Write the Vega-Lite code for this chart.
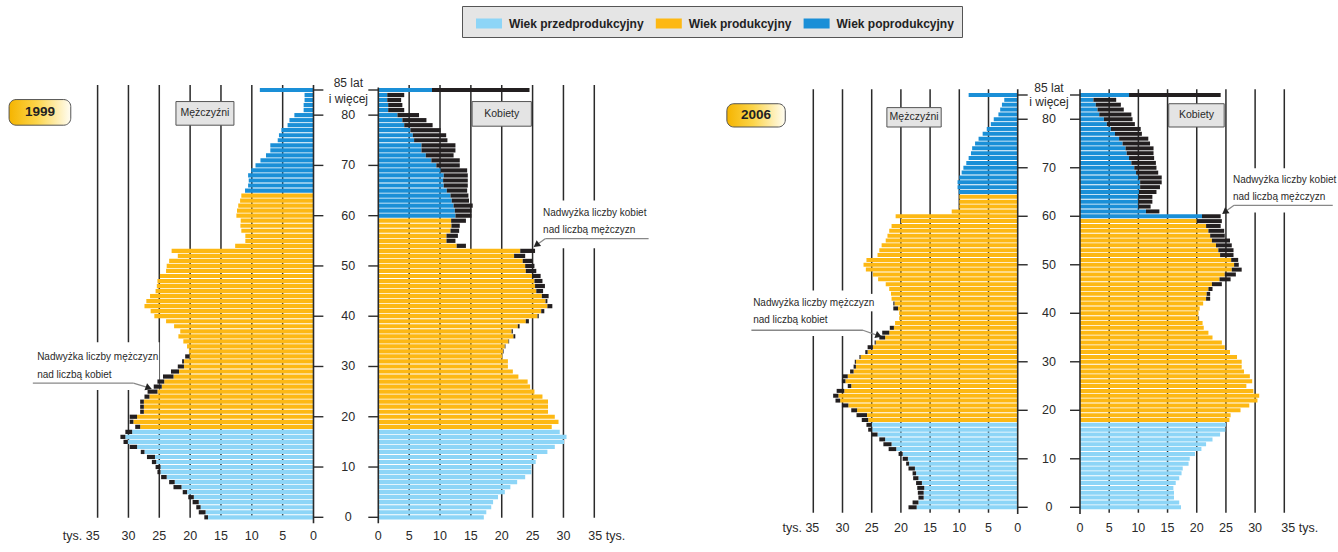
{
"$schema":"https://vega.github.io/schema/vega-lite/v6.json",
"width":1338,"height":552,"autosize":{"type":"none"},"padding":0,"background":"#ffffff",
"config":{"view":{"stroke":null},"font":"Liberation Sans","axis":{"disable":true},
"text":{"font":"Liberation Sans","fontSize":10,"color":"#2a2a2a"}},
"datasets":{
"ages":[{"a":0},{"a":10},{"a":20},{"a":30},{"a":40},{"a":50},{"a":60},{"a":70},{"a":80},{"a":85}],
"agel":[{"a":0},{"a":10},{"a":20},{"a":30},{"a":40},{"a":50},{"a":60},{"a":70},{"a":80}],
"xl":[{"t":0},{"t":5},{"t":10},{"t":15},{"t":20},{"t":25},{"t":30}],
"grid":[{"g":5},{"g":10},{"g":15},{"g":20},{"g":25},{"g":30},{"g":35}],
"pop":[
{"r":1999,"s":"M","a":0,"v":17.7,"g":"a"},{"r":1999,"s":"M","a":1,"v":18.6,"g":"a"},{"r":1999,"s":"M","a":2,"v":19.0,"g":"a"},{"r":1999,"s":"M","a":3,"v":19.6,"g":"a"},{"r":1999,"s":"M","a":4,"v":20.3,"g":"a"},{"r":1999,"s":"M","a":5,"v":21.2,"g":"a"},{"r":1999,"s":"M","a":6,"v":22.7,"g":"a"},{"r":1999,"s":"M","a":7,"v":23.4,"g":"a"},{"r":1999,"s":"M","a":8,"v":24.7,"g":"a"},{"r":1999,"s":"M","a":9,"v":25.3,"g":"a"},
{"r":1999,"s":"M","a":10,"v":25.6,"g":"a"},{"r":1999,"s":"M","a":11,"v":26.2,"g":"a"},{"r":1999,"s":"M","a":12,"v":27.0,"g":"a"},{"r":1999,"s":"M","a":13,"v":28.0,"g":"a"},{"r":1999,"s":"M","a":14,"v":29.8,"g":"a"},{"r":1999,"s":"M","a":15,"v":30.8,"g":"a"},{"r":1999,"s":"M","a":16,"v":31.3,"g":"a"},{"r":1999,"s":"M","a":17,"v":30.5,"g":"a"},{"r":1999,"s":"M","a":18,"v":28.9,"g":"b"},{"r":1999,"s":"M","a":19,"v":29.8,"g":"b"},
{"r":1999,"s":"M","a":20,"v":29.8,"g":"b"},{"r":1999,"s":"M","a":21,"v":28.1,"g":"b"},{"r":1999,"s":"M","a":22,"v":28.1,"g":"b"},{"r":1999,"s":"M","a":23,"v":28.1,"g":"b"},{"r":1999,"s":"M","a":24,"v":27.4,"g":"b"},{"r":1999,"s":"M","a":25,"v":26.9,"g":"b"},{"r":1999,"s":"M","a":26,"v":25.9,"g":"b"},{"r":1999,"s":"M","a":27,"v":25.3,"g":"b"},{"r":1999,"s":"M","a":28,"v":24.4,"g":"b"},{"r":1999,"s":"M","a":29,"v":23.1,"g":"b"},
{"r":1999,"s":"M","a":30,"v":22.0,"g":"b"},{"r":1999,"s":"M","a":31,"v":21.3,"g":"b"},{"r":1999,"s":"M","a":32,"v":20.8,"g":"b"},{"r":1999,"s":"M","a":33,"v":20.2,"g":"b"},{"r":1999,"s":"M","a":34,"v":20.5,"g":"b"},{"r":1999,"s":"M","a":35,"v":21.1,"g":"b"},{"r":1999,"s":"M","a":36,"v":21.9,"g":"b"},{"r":1999,"s":"M","a":37,"v":21.6,"g":"b"},{"r":1999,"s":"M","a":38,"v":22.6,"g":"b"},{"r":1999,"s":"M","a":39,"v":23.9,"g":"b"},
{"r":1999,"s":"M","a":40,"v":25.8,"g":"b"},{"r":1999,"s":"M","a":41,"v":26.4,"g":"b"},{"r":1999,"s":"M","a":42,"v":27.4,"g":"b"},{"r":1999,"s":"M","a":43,"v":27.1,"g":"b"},{"r":1999,"s":"M","a":44,"v":26.5,"g":"b"},{"r":1999,"s":"M","a":45,"v":25.6,"g":"b"},{"r":1999,"s":"M","a":46,"v":25.4,"g":"b"},{"r":1999,"s":"M","a":47,"v":25.3,"g":"b"},{"r":1999,"s":"M","a":48,"v":24.9,"g":"b"},{"r":1999,"s":"M","a":49,"v":23.9,"g":"b"},
{"r":1999,"s":"M","a":50,"v":23.8,"g":"b"},{"r":1999,"s":"M","a":51,"v":23.4,"g":"b"},{"r":1999,"s":"M","a":52,"v":22.0,"g":"b"},{"r":1999,"s":"M","a":53,"v":23.0,"g":"b"},{"r":1999,"s":"M","a":54,"v":12.7,"g":"b"},{"r":1999,"s":"M","a":55,"v":11.05,"g":"b"},{"r":1999,"s":"M","a":56,"v":11.05,"g":"b"},{"r":1999,"s":"M","a":57,"v":11.7,"g":"b"},{"r":1999,"s":"M","a":58,"v":11.85,"g":"b"},{"r":1999,"s":"M","a":59,"v":11.8,"g":"b"},
{"r":1999,"s":"M","a":60,"v":12.5,"g":"b"},{"r":1999,"s":"M","a":61,"v":12.4,"g":"b"},{"r":1999,"s":"M","a":62,"v":12.2,"g":"b"},{"r":1999,"s":"M","a":63,"v":11.9,"g":"b"},{"r":1999,"s":"M","a":64,"v":11.7,"g":"b"},{"r":1999,"s":"M","a":65,"v":11.1,"g":"c"},{"r":1999,"s":"M","a":66,"v":10.6,"g":"c"},{"r":1999,"s":"M","a":67,"v":10.5,"g":"c"},{"r":1999,"s":"M","a":68,"v":10.6,"g":"c"},{"r":1999,"s":"M","a":69,"v":10.1,"g":"c"},
{"r":1999,"s":"M","a":70,"v":9.4,"g":"c"},{"r":1999,"s":"M","a":71,"v":8.6,"g":"c"},{"r":1999,"s":"M","a":72,"v":7.7,"g":"c"},{"r":1999,"s":"M","a":73,"v":7.0,"g":"c"},{"r":1999,"s":"M","a":74,"v":7.0,"g":"c"},{"r":1999,"s":"M","a":75,"v":5.8,"g":"c"},{"r":1999,"s":"M","a":76,"v":5.6,"g":"c"},{"r":1999,"s":"M","a":77,"v":5.2,"g":"c"},{"r":1999,"s":"M","a":78,"v":4.2,"g":"c"},{"r":1999,"s":"M","a":79,"v":3.9,"g":"c"},
{"r":1999,"s":"M","a":80,"v":3.1,"g":"c"},{"r":1999,"s":"M","a":81,"v":1.6,"g":"c"},{"r":1999,"s":"M","a":82,"v":1.6,"g":"c"},{"r":1999,"s":"M","a":83,"v":1.45,"g":"c"},{"r":1999,"s":"M","a":84,"v":1.45,"g":"c"},{"r":1999,"s":"M","a":85,"v":8.7,"g":"c"},
{"r":1999,"s":"K","a":0,"v":17.1,"g":"a"},{"r":1999,"s":"K","a":1,"v":17.5,"g":"a"},{"r":1999,"s":"K","a":2,"v":18.3,"g":"a"},{"r":1999,"s":"K","a":3,"v":18.6,"g":"a"},{"r":1999,"s":"K","a":4,"v":19.4,"g":"a"},{"r":1999,"s":"K","a":5,"v":20.5,"g":"a"},{"r":1999,"s":"K","a":6,"v":21.4,"g":"a"},{"r":1999,"s":"K","a":7,"v":22.5,"g":"a"},{"r":1999,"s":"K","a":8,"v":23.8,"g":"a"},{"r":1999,"s":"K","a":9,"v":24.8,"g":"a"},
{"r":1999,"s":"K","a":10,"v":24.8,"g":"a"},{"r":1999,"s":"K","a":11,"v":25.5,"g":"a"},{"r":1999,"s":"K","a":12,"v":25.7,"g":"a"},{"r":1999,"s":"K","a":13,"v":27.4,"g":"a"},{"r":1999,"s":"K","a":14,"v":28.6,"g":"a"},{"r":1999,"s":"K","a":15,"v":30.1,"g":"a"},{"r":1999,"s":"K","a":16,"v":30.5,"g":"a"},{"r":1999,"s":"K","a":17,"v":29.4,"g":"a"},{"r":1999,"s":"K","a":18,"v":28.1,"g":"b"},{"r":1999,"s":"K","a":19,"v":29.2,"g":"b"},
{"r":1999,"s":"K","a":20,"v":28.6,"g":"b"},{"r":1999,"s":"K","a":21,"v":27.5,"g":"b"},{"r":1999,"s":"K","a":22,"v":27.5,"g":"b"},{"r":1999,"s":"K","a":23,"v":27.5,"g":"b"},{"r":1999,"s":"K","a":24,"v":26.6,"g":"b"},{"r":1999,"s":"K","a":25,"v":25.3,"g":"b"},{"r":1999,"s":"K","a":26,"v":24.6,"g":"b"},{"r":1999,"s":"K","a":27,"v":24.2,"g":"b"},{"r":1999,"s":"K","a":28,"v":22.7,"g":"b"},{"r":1999,"s":"K","a":29,"v":21.8,"g":"b"},
{"r":1999,"s":"K","a":30,"v":21.0,"g":"b"},{"r":1999,"s":"K","a":31,"v":21.0,"g":"b"},{"r":1999,"s":"K","a":32,"v":20.1,"g":"b"},{"r":1999,"s":"K","a":33,"v":20.3,"g":"b"},{"r":1999,"s":"K","a":34,"v":20.6,"g":"b"},{"r":1999,"s":"K","a":35,"v":21.2,"g":"b"},{"r":1999,"s":"K","a":36,"v":22.2,"g":"b"},{"r":1999,"s":"K","a":37,"v":21.8,"g":"b"},{"r":1999,"s":"K","a":38,"v":22.9,"g":"b"},{"r":1999,"s":"K","a":39,"v":24.4,"g":"b"},
{"r":1999,"s":"K","a":40,"v":26.0,"g":"b"},{"r":1999,"s":"K","a":41,"v":26.9,"g":"b"},{"r":1999,"s":"K","a":42,"v":28.2,"g":"b"},{"r":1999,"s":"K","a":43,"v":27.4,"g":"b"},{"r":1999,"s":"K","a":44,"v":27.6,"g":"b"},{"r":1999,"s":"K","a":45,"v":26.7,"g":"b"},{"r":1999,"s":"K","a":46,"v":27.0,"g":"b"},{"r":1999,"s":"K","a":47,"v":26.6,"g":"b"},{"r":1999,"s":"K","a":48,"v":26.3,"g":"b"},{"r":1999,"s":"K","a":49,"v":25.6,"g":"b"},
{"r":1999,"s":"K","a":50,"v":25.3,"g":"b"},{"r":1999,"s":"K","a":51,"v":25.0,"g":"b"},{"r":1999,"s":"K","a":52,"v":23.8,"g":"b"},{"r":1999,"s":"K","a":53,"v":25.4,"g":"b"},{"r":1999,"s":"K","a":54,"v":14.2,"g":"b"},{"r":1999,"s":"K","a":55,"v":12.5,"g":"b"},{"r":1999,"s":"K","a":56,"v":12.9,"g":"b"},{"r":1999,"s":"K","a":57,"v":13.1,"g":"b"},{"r":1999,"s":"K","a":58,"v":13.2,"g":"b"},{"r":1999,"s":"K","a":59,"v":14.2,"g":"b"},
{"r":1999,"s":"K","a":60,"v":15.1,"g":"c"},{"r":1999,"s":"K","a":61,"v":15.1,"g":"c"},{"r":1999,"s":"K","a":62,"v":15.3,"g":"c"},{"r":1999,"s":"K","a":63,"v":14.7,"g":"c"},{"r":1999,"s":"K","a":64,"v":14.6,"g":"c"},{"r":1999,"s":"K","a":65,"v":14.4,"g":"c"},{"r":1999,"s":"K","a":66,"v":14.5,"g":"c"},{"r":1999,"s":"K","a":67,"v":14.5,"g":"c"},{"r":1999,"s":"K","a":68,"v":14.5,"g":"c"},{"r":1999,"s":"K","a":69,"v":14.4,"g":"c"},
{"r":1999,"s":"K","a":70,"v":13.2,"g":"c"},{"r":1999,"s":"K","a":71,"v":13.2,"g":"c"},{"r":1999,"s":"K","a":72,"v":12.2,"g":"c"},{"r":1999,"s":"K","a":73,"v":12.5,"g":"c"},{"r":1999,"s":"K","a":74,"v":12.5,"g":"c"},{"r":1999,"s":"K","a":75,"v":11.2,"g":"c"},{"r":1999,"s":"K","a":76,"v":11.0,"g":"c"},{"r":1999,"s":"K","a":77,"v":10.1,"g":"c"},{"r":1999,"s":"K","a":78,"v":8.8,"g":"c"},{"r":1999,"s":"K","a":79,"v":7.8,"g":"c"},
{"r":1999,"s":"K","a":80,"v":6.6,"g":"c"},{"r":1999,"s":"K","a":81,"v":4.2,"g":"c"},{"r":1999,"s":"K","a":82,"v":3.9,"g":"c"},{"r":1999,"s":"K","a":83,"v":3.7,"g":"c"},{"r":1999,"s":"K","a":84,"v":4.2,"g":"c"},{"r":1999,"s":"K","a":85,"v":24.5,"g":"c"},
{"r":2006,"s":"M","a":0,"v":18.7,"g":"a"},{"r":2006,"s":"M","a":1,"v":18.0,"g":"a"},{"r":2006,"s":"M","a":2,"v":17.0,"g":"a"},{"r":2006,"s":"M","a":3,"v":17.1,"g":"a"},{"r":2006,"s":"M","a":4,"v":17.2,"g":"a"},{"r":2006,"s":"M","a":5,"v":17.4,"g":"a"},{"r":2006,"s":"M","a":6,"v":17.9,"g":"a"},{"r":2006,"s":"M","a":7,"v":18.0,"g":"a"},{"r":2006,"s":"M","a":8,"v":18.7,"g":"a"},{"r":2006,"s":"M","a":9,"v":19.1,"g":"a"},
{"r":2006,"s":"M","a":10,"v":19.7,"g":"a"},{"r":2006,"s":"M","a":11,"v":20.4,"g":"a"},{"r":2006,"s":"M","a":12,"v":22.1,"g":"a"},{"r":2006,"s":"M","a":13,"v":23.0,"g":"a"},{"r":2006,"s":"M","a":14,"v":23.7,"g":"a"},{"r":2006,"s":"M","a":15,"v":25.0,"g":"a"},{"r":2006,"s":"M","a":16,"v":25.6,"g":"a"},{"r":2006,"s":"M","a":17,"v":25.9,"g":"a"},{"r":2006,"s":"M","a":18,"v":26.7,"g":"b"},{"r":2006,"s":"M","a":19,"v":27.6,"g":"b"},
{"r":2006,"s":"M","a":20,"v":28.5,"g":"b"},{"r":2006,"s":"M","a":21,"v":30.1,"g":"b"},{"r":2006,"s":"M","a":22,"v":31.2,"g":"b"},{"r":2006,"s":"M","a":23,"v":31.6,"g":"b"},{"r":2006,"s":"M","a":24,"v":31.0,"g":"b"},{"r":2006,"s":"M","a":25,"v":29.1,"g":"b"},{"r":2006,"s":"M","a":26,"v":30.1,"g":"b"},{"r":2006,"s":"M","a":27,"v":30.0,"g":"b"},{"r":2006,"s":"M","a":28,"v":28.7,"g":"b"},{"r":2006,"s":"M","a":29,"v":28.1,"g":"b"},
{"r":2006,"s":"M","a":30,"v":27.9,"g":"b"},{"r":2006,"s":"M","a":31,"v":27.1,"g":"b"},{"r":2006,"s":"M","a":32,"v":26.1,"g":"b"},{"r":2006,"s":"M","a":33,"v":25.7,"g":"b"},{"r":2006,"s":"M","a":34,"v":24.5,"g":"b"},{"r":2006,"s":"M","a":35,"v":23.7,"g":"b"},{"r":2006,"s":"M","a":36,"v":23.2,"g":"b"},{"r":2006,"s":"M","a":37,"v":21.9,"g":"b"},{"r":2006,"s":"M","a":38,"v":21.0,"g":"b"},{"r":2006,"s":"M","a":39,"v":20.3,"g":"b"},
{"r":2006,"s":"M","a":40,"v":20.3,"g":"b"},{"r":2006,"s":"M","a":41,"v":21.3,"g":"b"},{"r":2006,"s":"M","a":42,"v":21.3,"g":"b"},{"r":2006,"s":"M","a":43,"v":21.6,"g":"b"},{"r":2006,"s":"M","a":44,"v":21.7,"g":"b"},{"r":2006,"s":"M","a":45,"v":22.0,"g":"b"},{"r":2006,"s":"M","a":46,"v":22.6,"g":"b"},{"r":2006,"s":"M","a":47,"v":23.9,"g":"b"},{"r":2006,"s":"M","a":48,"v":24.8,"g":"b"},{"r":2006,"s":"M","a":49,"v":26.0,"g":"b"},
{"r":2006,"s":"M","a":50,"v":26.4,"g":"b"},{"r":2006,"s":"M","a":51,"v":25.9,"g":"b"},{"r":2006,"s":"M","a":52,"v":24.0,"g":"b"},{"r":2006,"s":"M","a":53,"v":23.7,"g":"b"},{"r":2006,"s":"M","a":54,"v":23.3,"g":"b"},{"r":2006,"s":"M","a":55,"v":22.6,"g":"b"},{"r":2006,"s":"M","a":56,"v":22.3,"g":"b"},{"r":2006,"s":"M","a":57,"v":22.0,"g":"b"},{"r":2006,"s":"M","a":58,"v":21.6,"g":"b"},{"r":2006,"s":"M","a":59,"v":20.0,"g":"b"},
{"r":2006,"s":"M","a":60,"v":20.9,"g":"b"},{"r":2006,"s":"M","a":61,"v":11.3,"g":"b"},{"r":2006,"s":"M","a":62,"v":10.0,"g":"b"},{"r":2006,"s":"M","a":63,"v":10.0,"g":"b"},{"r":2006,"s":"M","a":64,"v":10.0,"g":"b"},{"r":2006,"s":"M","a":65,"v":10.1,"g":"c"},{"r":2006,"s":"M","a":66,"v":10.3,"g":"c"},{"r":2006,"s":"M","a":67,"v":10.3,"g":"c"},{"r":2006,"s":"M","a":68,"v":10.0,"g":"c"},{"r":2006,"s":"M","a":69,"v":9.6,"g":"c"},
{"r":2006,"s":"M","a":70,"v":9.3,"g":"c"},{"r":2006,"s":"M","a":71,"v":8.8,"g":"c"},{"r":2006,"s":"M","a":72,"v":8.4,"g":"c"},{"r":2006,"s":"M","a":73,"v":8.0,"g":"c"},{"r":2006,"s":"M","a":74,"v":7.8,"g":"c"},{"r":2006,"s":"M","a":75,"v":7.3,"g":"c"},{"r":2006,"s":"M","a":76,"v":6.7,"g":"c"},{"r":2006,"s":"M","a":77,"v":6.0,"g":"c"},{"r":2006,"s":"M","a":78,"v":5.3,"g":"c"},{"r":2006,"s":"M","a":79,"v":4.6,"g":"c"},
{"r":2006,"s":"M","a":80,"v":4.1,"g":"c"},{"r":2006,"s":"M","a":81,"v":3.3,"g":"c"},{"r":2006,"s":"M","a":82,"v":3.0,"g":"c"},{"r":2006,"s":"M","a":83,"v":2.7,"g":"c"},{"r":2006,"s":"M","a":84,"v":2.3,"g":"c"},{"r":2006,"s":"M","a":85,"v":8.4,"g":"c"},
{"r":2006,"s":"K","a":0,"v":17.3,"g":"a"},{"r":2006,"s":"K","a":1,"v":17.0,"g":"a"},{"r":2006,"s":"K","a":2,"v":16.1,"g":"a"},{"r":2006,"s":"K","a":3,"v":16.1,"g":"a"},{"r":2006,"s":"K","a":4,"v":16.0,"g":"a"},{"r":2006,"s":"K","a":5,"v":16.4,"g":"a"},{"r":2006,"s":"K","a":6,"v":17.0,"g":"a"},{"r":2006,"s":"K","a":7,"v":17.4,"g":"a"},{"r":2006,"s":"K","a":8,"v":17.6,"g":"a"},{"r":2006,"s":"K","a":9,"v":18.6,"g":"a"},
{"r":2006,"s":"K","a":10,"v":18.8,"g":"a"},{"r":2006,"s":"K","a":11,"v":19.7,"g":"a"},{"r":2006,"s":"K","a":12,"v":20.8,"g":"a"},{"r":2006,"s":"K","a":13,"v":21.6,"g":"a"},{"r":2006,"s":"K","a":14,"v":22.7,"g":"a"},{"r":2006,"s":"K","a":15,"v":24.0,"g":"a"},{"r":2006,"s":"K","a":16,"v":24.9,"g":"a"},{"r":2006,"s":"K","a":17,"v":25.0,"g":"a"},{"r":2006,"s":"K","a":18,"v":25.6,"g":"b"},{"r":2006,"s":"K","a":19,"v":25.8,"g":"b"},
{"r":2006,"s":"K","a":20,"v":27.5,"g":"b"},{"r":2006,"s":"K","a":21,"v":29.0,"g":"b"},{"r":2006,"s":"K","a":22,"v":30.4,"g":"b"},{"r":2006,"s":"K","a":23,"v":30.7,"g":"b"},{"r":2006,"s":"K","a":24,"v":29.7,"g":"b"},{"r":2006,"s":"K","a":25,"v":28.5,"g":"b"},{"r":2006,"s":"K","a":26,"v":29.5,"g":"b"},{"r":2006,"s":"K","a":27,"v":29.1,"g":"b"},{"r":2006,"s":"K","a":28,"v":28.1,"g":"b"},{"r":2006,"s":"K","a":29,"v":27.7,"g":"b"},
{"r":2006,"s":"K","a":30,"v":27.7,"g":"b"},{"r":2006,"s":"K","a":31,"v":26.9,"g":"b"},{"r":2006,"s":"K","a":32,"v":25.7,"g":"b"},{"r":2006,"s":"K","a":33,"v":24.8,"g":"b"},{"r":2006,"s":"K","a":34,"v":24.3,"g":"b"},{"r":2006,"s":"K","a":35,"v":22.7,"g":"b"},{"r":2006,"s":"K","a":36,"v":22.0,"g":"b"},{"r":2006,"s":"K","a":37,"v":21.2,"g":"b"},{"r":2006,"s":"K","a":38,"v":21.0,"g":"b"},{"r":2006,"s":"K","a":39,"v":20.4,"g":"b"},
{"r":2006,"s":"K","a":40,"v":20.3,"g":"b"},{"r":2006,"s":"K","a":41,"v":20.5,"g":"b"},{"r":2006,"s":"K","a":42,"v":21.1,"g":"b"},{"r":2006,"s":"K","a":43,"v":22.3,"g":"b"},{"r":2006,"s":"K","a":44,"v":22.3,"g":"b"},{"r":2006,"s":"K","a":45,"v":22.7,"g":"b"},{"r":2006,"s":"K","a":46,"v":24.3,"g":"b"},{"r":2006,"s":"K","a":47,"v":25.8,"g":"b"},{"r":2006,"s":"K","a":48,"v":26.7,"g":"b"},{"r":2006,"s":"K","a":49,"v":27.7,"g":"b"},
{"r":2006,"s":"K","a":50,"v":27.2,"g":"b"},{"r":2006,"s":"K","a":51,"v":27.1,"g":"b"},{"r":2006,"s":"K","a":52,"v":26.3,"g":"b"},{"r":2006,"s":"K","a":53,"v":26.3,"g":"b"},{"r":2006,"s":"K","a":54,"v":26.0,"g":"b"},{"r":2006,"s":"K","a":55,"v":25.7,"g":"b"},{"r":2006,"s":"K","a":56,"v":24.8,"g":"b"},{"r":2006,"s":"K","a":57,"v":24.7,"g":"b"},{"r":2006,"s":"K","a":58,"v":24.1,"g":"b"},{"r":2006,"s":"K","a":59,"v":24.3,"g":"b"},
{"r":2006,"s":"K","a":60,"v":24.1,"g":"c"},{"r":2006,"s":"K","a":61,"v":13.6,"g":"c"},{"r":2006,"s":"K","a":62,"v":12.1,"g":"c"},{"r":2006,"s":"K","a":63,"v":12.4,"g":"c"},{"r":2006,"s":"K","a":64,"v":12.4,"g":"c"},{"r":2006,"s":"K","a":65,"v":13.1,"g":"c"},{"r":2006,"s":"K","a":66,"v":13.7,"g":"c"},{"r":2006,"s":"K","a":67,"v":14.0,"g":"c"},{"r":2006,"s":"K","a":68,"v":14.0,"g":"c"},{"r":2006,"s":"K","a":69,"v":13.4,"g":"c"},
{"r":2006,"s":"K","a":70,"v":13.1,"g":"c"},{"r":2006,"s":"K","a":71,"v":13.0,"g":"c"},{"r":2006,"s":"K","a":72,"v":12.7,"g":"c"},{"r":2006,"s":"K","a":73,"v":12.6,"g":"c"},{"r":2006,"s":"K","a":74,"v":12.6,"g":"c"},{"r":2006,"s":"K","a":75,"v":12.0,"g":"c"},{"r":2006,"s":"K","a":76,"v":11.7,"g":"c"},{"r":2006,"s":"K","a":77,"v":10.6,"g":"c"},{"r":2006,"s":"K","a":78,"v":10.4,"g":"c"},{"r":2006,"s":"K","a":79,"v":9.4,"g":"c"},
{"r":2006,"s":"K","a":80,"v":9.0,"g":"c"},{"r":2006,"s":"K","a":81,"v":8.8,"g":"c"},{"r":2006,"s":"K","a":82,"v":7.5,"g":"c"},{"r":2006,"s":"K","a":83,"v":7.0,"g":"c"},{"r":2006,"s":"K","a":84,"v":6.2,"g":"c"},{"r":2006,"s":"K","a":85,"v":24.1,"g":"c"}
]},
"resolve":{"scale":{"x":"independent","y":"independent"}},
"layer":[
{"layer":[
 {"data":{"name":"grid"},"mark":{"type":"rule","color":"#2a2a2a","strokeWidth":1.5},
  "encoding":{"x":{"field":"g","type":"quantitative","axis":null},"y":{"datum":86,"axis":null},"y2":{"datum":-0.1}}},
 {"data":{"values":[{}]},"mark":{"type":"rect","fill":"#ffffff"},"encoding":{"x":{"datum":45.8,"axis":null},"x2":{"datum":25.0},"y":{"datum":34.8,"axis":null},"y2":{"datum":25.3}}},
 {"data":{"name":"pop"},"transform":[{"filter":"datum.r == 1999"},{"joinaggregate":[{"op":"min","field":"v","as":"lo"}],"groupby":["a"]},{"filter":"datum.s == 'M'"}],
  "mark":{"type":"bar","orient":"horizontal","size":4.2},
  "encoding":{
   "x":{"field":"lo","type":"quantitative","scale":{"domain":[0,35],"range":[313.5,97.6],"nice":false,"zero":false},"axis":null},
   "x2":{"datum":0},
   "y":{"field":"a","type":"quantitative","scale":{"domain":[0,85],"range":[522.3,85],"nice":false,"zero":false},"axis":null},
   "color":{"field":"g","type":"nominal","scale":{"domain":["a","b","c"],"range":["#8dd5f7","#fdb813","#1a8fd7"]},
     "legend":{"orient":"none","legendX":462,"legendY":6,"direction":"horizontal","title":null,
       "labelExpr":"datum.label == 'a' ? 'Wiek przedprodukcyjny' : datum.label == 'b' ? 'Wiek produkcyjny' : 'Wiek poprodukcyjny'",
       "fillColor":"#e5e5e5","strokeColor":"#555555","padding":7.5,"symbolType":"M-1.3,-0.5H1.3V0.5H-1.3Z","symbolSize":400,"symbolStrokeWidth":0,"symbolOpacity":1,"symbolOffset":9.5,
       "labelFont":"Liberation Sans","labelFontSize":12,"labelFontWeight":"bold","labelColor":"#222222","labelOffset":10,"columnPadding":4.8,"labelLimit":400}}
  }},
 {"data":{"name":"pop"},"transform":[{"filter":"datum.r == 1999"},{"joinaggregate":[{"op":"min","field":"v","as":"lo"}],"groupby":["a"]},{"filter":"datum.s == 'M'"},{"filter":"datum.v > datum.lo"}],
  "mark":{"type":"bar","orient":"horizontal","size":4.2,"color":"#231f20"},
  "encoding":{"x":{"field":"lo","type":"quantitative","axis":null},"x2":{"field":"v"},"y":{"field":"a","type":"quantitative","axis":null}}},
 {"data":{"values":[{}]},"mark":{"type":"rule","color":"#2a2a2a","strokeWidth":1.6},
  "encoding":{"x":{"datum":0,"axis":null},"y":{"datum":86,"axis":null},"y2":{"datum":-1.2}}},
 {"data":{"name":"ages"},"mark":{"type":"rule","color":"#2a2a2a","strokeWidth":1.4},
  "encoding":{"x":{"datum":0,"axis":null},"x2":{"datum":-1.6},"y":{"field":"a","type":"quantitative","axis":null}}},
 {"data":{"name":"xl"},"mark":{"type":"text","fontSize":12.5,"align":"center","baseline":"middle"},
  "encoding":{"x":{"field":"t","type":"quantitative","axis":null},"y":{"datum":-3.8,"axis":null},"text":{"field":"t"}}},
 {"data":{"values":[{}]},"mark":{"type":"text","text":"tys. 35","fontSize":12.5,"align":"right","baseline":"middle","dx":2},
  "encoding":{"x":{"datum":35,"axis":null},"y":{"datum":-3.8,"axis":null}}},
 {"data":{"values":[{}]},"mark":{"type":"rect","cornerRadius":7,"stroke":"#555555","strokeWidth":1,"fill":{"gradient":"linear","x1":0,"y1":0,"x2":1,"y2":0,"stops":[{"offset":0,"color":"#f5b400"},{"offset":0.45,"color":"#fcd54a"},{"offset":1,"color":"#fffdf3"}]}},
  "encoding":{"x":{"datum":49.35,"axis":null},"x2":{"datum":39.35},"y":{"datum":83.1,"axis":null},"y2":{"datum":78.0}}},
 {"data":{"values":[{}]},"mark":{"type":"text","text":"1999","fontWeight":"bold","fontSize":13.5,"align":"center","baseline":"middle","color":"#222222"},
  "encoding":{"x":{"datum":44.35,"axis":null},"y":{"datum":80.55,"axis":null}}},
 {"data":{"values":[{}]},"mark":{"type":"rect","fill":"#e4e4e4","stroke":"#555555","strokeWidth":1},
  "encoding":{"x":{"datum":22.3,"axis":null},"x2":{"datum":12.9},"y":{"datum":82.7,"axis":null},"y2":{"datum":78.0}}},
 {"data":{"values":[{}]},"mark":{"type":"text","text":"Mężczyźni","fontSize":10.5,"align":"center","baseline":"middle"},
  "encoding":{"x":{"datum":17.6,"axis":null},"y":{"datum":80.35,"axis":null}}},
 {"data":{"values":[{}]},"mark":{"type":"text","text":"Nadwyżka liczby mężczyzn","fontSize":10,"align":"left","baseline":"middle"},
  "encoding":{"x":{"datum":44.8,"axis":null},"y":{"datum":31.9,"axis":null}}},
 {"data":{"values":[{}]},"mark":{"type":"text","text":"nad liczbą kobiet","fontSize":10,"align":"left","baseline":"middle"},
  "encoding":{"x":{"datum":44.8,"axis":null},"y":{"datum":28.4,"axis":null}}},
 {"data":{"values":[{}]},"mark":{"type":"rule","color":"#888888","strokeWidth":1.3},
  "encoding":{"x":{"datum":45.5,"axis":null},"x2":{"datum":29.2},"y":{"datum":26.7,"axis":null},"y2":{"datum":26.7}}},
 {"data":{"values":[{}]},"mark":{"type":"rule","color":"#888888","strokeWidth":1.3},
  "encoding":{"x":{"datum":29.2,"axis":null},"x2":{"datum":26.8},"y":{"datum":26.7,"axis":null},"y2":{"datum":25.8}}},
 {"data":{"values":[{}]},"mark":{"type":"point","shape":"triangle-right","angle":20,"size":55,"filled":true,"color":"#222222","opacity":1},
  "encoding":{"x":{"datum":26.7,"axis":null},"y":{"datum":25.75,"axis":null}}}
]},
{"layer":[
 {"data":{"name":"grid"},"mark":{"type":"rule","color":"#2a2a2a","strokeWidth":1.5},
  "encoding":{"x":{"field":"g","type":"quantitative","axis":null},"y":{"datum":86,"axis":null},"y2":{"datum":-0.1}}},
 {"data":{"values":[{}]},"mark":{"type":"rect","fill":"#ffffff"},"encoding":{"x":{"datum":26.3,"axis":null},"x2":{"datum":43.8},"y":{"datum":63.0,"axis":null},"y2":{"datum":53.5}}},
 {"data":{"name":"pop"},"transform":[{"filter":"datum.r == 1999"},{"joinaggregate":[{"op":"min","field":"v","as":"lo"}],"groupby":["a"]},{"filter":"datum.s == 'K'"}],
  "mark":{"type":"bar","orient":"horizontal","size":4.2},
  "encoding":{
   "x":{"field":"lo","type":"quantitative","scale":{"domain":[0,35],"range":[378.3,594.3],"nice":false,"zero":false},"axis":null},
   "x2":{"datum":0},
   "y":{"field":"a","type":"quantitative","scale":{"domain":[0,85],"range":[522.3,85],"nice":false,"zero":false},"axis":null},
   "color":{"field":"g","type":"nominal"}
  }},
 {"data":{"name":"pop"},"transform":[{"filter":"datum.r == 1999"},{"joinaggregate":[{"op":"min","field":"v","as":"lo"}],"groupby":["a"]},{"filter":"datum.s == 'K'"},{"filter":"datum.v > datum.lo"}],
  "mark":{"type":"bar","orient":"horizontal","size":4.2,"color":"#231f20"},
  "encoding":{"x":{"field":"lo","type":"quantitative","axis":null},"x2":{"field":"v"},"y":{"field":"a","type":"quantitative","axis":null}}},
 {"data":{"values":[{}]},"mark":{"type":"rule","color":"#2a2a2a","strokeWidth":1.6},
  "encoding":{"x":{"datum":0,"axis":null},"y":{"datum":85.5,"axis":null},"y2":{"datum":-1.2}}},
 {"data":{"name":"ages"},"mark":{"type":"rule","color":"#2a2a2a","strokeWidth":1.4},
  "encoding":{"x":{"datum":0,"axis":null},"x2":{"datum":-1.62},"y":{"field":"a","type":"quantitative","axis":null}}},
 {"data":{"name":"agel"},"mark":{"type":"text","fontSize":12.5,"align":"center","baseline":"middle"},
  "encoding":{"x":{"datum":-4.86,"axis":null},"y":{"field":"a","type":"quantitative","axis":null},"text":{"field":"a"}}},
 {"data":{"values":[{}]},"mark":{"type":"text","text":"85 lat","fontSize":12,"align":"center","baseline":"middle"},
  "encoding":{"x":{"datum":-4.86,"axis":null},"y":{"datum":86.35,"axis":null}}},
 {"data":{"values":[{}]},"mark":{"type":"text","text":"i więcej","fontSize":12,"align":"center","baseline":"middle"},
  "encoding":{"x":{"datum":-4.86,"axis":null},"y":{"datum":83.3,"axis":null}}},
 {"data":{"name":"xl"},"mark":{"type":"text","fontSize":12.5,"align":"center","baseline":"middle"},
  "encoding":{"x":{"field":"t","type":"quantitative","axis":null},"y":{"datum":-3.8,"axis":null},"text":{"field":"t"}}},
 {"data":{"values":[{}]},"mark":{"type":"text","text":"35 tys.","fontSize":12.5,"align":"left","baseline":"middle","dx":-6},
  "encoding":{"x":{"datum":35,"axis":null},"y":{"datum":-3.8,"axis":null}}},
 {"data":{"values":[{}]},"mark":{"type":"rect","fill":"#e4e4e4","stroke":"#555555","strokeWidth":1},
  "encoding":{"x":{"datum":15.2,"axis":null},"x2":{"datum":24.8},"y":{"datum":82.7,"axis":null},"y2":{"datum":77.8}}},
 {"data":{"values":[{}]},"mark":{"type":"text","text":"Kobiety","fontSize":10.5,"align":"center","baseline":"middle"},
  "encoding":{"x":{"datum":20.0,"axis":null},"y":{"datum":80.25,"axis":null}}},
 {"data":{"values":[{}]},"mark":{"type":"text","text":"Nadwyżka liczby kobiet","fontSize":10,"align":"left","baseline":"middle"},
  "encoding":{"x":{"datum":26.7,"axis":null},"y":{"datum":60.5,"axis":null}}},
 {"data":{"values":[{}]},"mark":{"type":"text","text":"nad liczbą mężczyzn","fontSize":10,"align":"left","baseline":"middle"},
  "encoding":{"x":{"datum":26.7,"axis":null},"y":{"datum":57.2,"axis":null}}},
 {"data":{"values":[{}]},"mark":{"type":"rule","color":"#888888","strokeWidth":1.3},
  "encoding":{"x":{"datum":43.8,"axis":null},"x2":{"datum":27.1},"y":{"datum":55.45,"axis":null},"y2":{"datum":55.45}}},
 {"data":{"values":[{}]},"mark":{"type":"rule","color":"#888888","strokeWidth":1.3},
  "encoding":{"x":{"datum":27.1,"axis":null},"x2":{"datum":25.8},"y":{"datum":55.45,"axis":null},"y2":{"datum":54.3}}},
 {"data":{"values":[{}]},"mark":{"type":"point","shape":"triangle-right","angle":143,"size":55,"filled":true,"color":"#222222","opacity":1},
  "encoding":{"x":{"datum":25.6,"axis":null},"y":{"datum":54.15,"axis":null}}}
]},
{"layer":[
 {"data":{"name":"grid"},"mark":{"type":"rule","color":"#2a2a2a","strokeWidth":1.5},
  "encoding":{"x":{"field":"g","type":"quantitative","axis":null},"y":{"datum":86.2,"axis":null},"y2":{"datum":-1.1}}},
 {"data":{"values":[{}]},"mark":{"type":"rect","fill":"#ffffff"},"encoding":{"x":{"datum":46.7,"axis":null},"x2":{"datum":26.0},"y":{"datum":44.7,"axis":null},"y2":{"datum":35.3}}},
 {"data":{"values":[{}]},"mark":{"type":"rect","fill":"#ffffff"},"encoding":{"x":{"datum":26.0,"axis":null},"x2":{"datum":23.9},"y":{"datum":44.0,"axis":null},"y2":{"datum":40.4}}},
 {"data":{"name":"pop"},"transform":[{"filter":"datum.r == 2006"},{"joinaggregate":[{"op":"min","field":"v","as":"lo"}],"groupby":["a"]},{"filter":"datum.s == 'M'"}],
  "mark":{"type":"bar","orient":"horizontal","size":4.0},
  "encoding":{
   "x":{"field":"lo","type":"quantitative","scale":{"domain":[0,35],"range":[1017.7,813.3],"nice":false,"zero":false},"axis":null},
   "x2":{"datum":0},
   "y":{"field":"a","type":"quantitative","scale":{"domain":[0,85],"range":[512.3,90],"nice":false,"zero":false},"axis":null},
   "color":{"field":"g","type":"nominal"}
  }},
 {"data":{"name":"pop"},"transform":[{"filter":"datum.r == 2006"},{"joinaggregate":[{"op":"min","field":"v","as":"lo"}],"groupby":["a"]},{"filter":"datum.s == 'M'"},{"filter":"datum.v > datum.lo"}],
  "mark":{"type":"bar","orient":"horizontal","size":4.0,"color":"#231f20"},
  "encoding":{"x":{"field":"lo","type":"quantitative","axis":null},"x2":{"field":"v"},"y":{"field":"a","type":"quantitative","axis":null}}},
 {"data":{"values":[{}]},"mark":{"type":"rule","color":"#2a2a2a","strokeWidth":1.6},
  "encoding":{"x":{"datum":0,"axis":null},"y":{"datum":86.2,"axis":null},"y2":{"datum":-1.4}}},
 {"data":{"name":"ages"},"mark":{"type":"rule","color":"#2a2a2a","strokeWidth":1.4},
  "encoding":{"x":{"datum":0,"axis":null},"x2":{"datum":-1.71},"y":{"field":"a","type":"quantitative","axis":null}}},
 {"data":{"name":"xl"},"mark":{"type":"text","fontSize":12.5,"align":"center","baseline":"middle"},
  "encoding":{"x":{"field":"t","type":"quantitative","axis":null},"y":{"datum":-4.35,"axis":null},"text":{"field":"t"}}},
 {"data":{"values":[{}]},"mark":{"type":"text","text":"tys. 35","fontSize":12.5,"align":"right","baseline":"middle","dx":6},
  "encoding":{"x":{"datum":35,"axis":null},"y":{"datum":-4.35,"axis":null}}},
 {"data":{"values":[{}]},"mark":{"type":"rect","cornerRadius":7,"stroke":"#555555","strokeWidth":1,"fill":{"gradient":"linear","x1":0,"y1":0,"x2":1,"y2":0,"stops":[{"offset":0,"color":"#f5b400"},{"offset":0.45,"color":"#fcd54a"},{"offset":1,"color":"#fffdf3"}]}},
  "encoding":{"x":{"datum":49.8,"axis":null},"x2":{"datum":39.8},"y":{"datum":83.2,"axis":null},"y2":{"datum":78.4}}},
 {"data":{"values":[{}]},"mark":{"type":"text","text":"2006","fontWeight":"bold","fontSize":13.5,"align":"center","baseline":"middle","color":"#222222"},
  "encoding":{"x":{"datum":44.8,"axis":null},"y":{"datum":80.8,"axis":null}}},
 {"data":{"values":[{}]},"mark":{"type":"rect","fill":"#e4e4e4","stroke":"#555555","strokeWidth":1},
  "encoding":{"x":{"datum":22.4,"axis":null},"x2":{"datum":13.1},"y":{"datum":82.4,"axis":null},"y2":{"datum":78.4}}},
 {"data":{"values":[{}]},"mark":{"type":"text","text":"Mężczyźni","fontSize":10.5,"align":"center","baseline":"middle"},
  "encoding":{"x":{"datum":17.75,"axis":null},"y":{"datum":80.4,"axis":null}}},
 {"data":{"values":[{}]},"mark":{"type":"text","text":"Nadwyżka liczby mężczyzn","fontSize":10,"align":"left","baseline":"middle"},
  "encoding":{"x":{"datum":45.3,"axis":null},"y":{"datum":42.1,"axis":null}}},
 {"data":{"values":[{}]},"mark":{"type":"text","text":"nad liczbą kobiet","fontSize":10,"align":"left","baseline":"middle"},
  "encoding":{"x":{"datum":45.3,"axis":null},"y":{"datum":38.6,"axis":null}}},
 {"data":{"values":[{}]},"mark":{"type":"rule","color":"#888888","strokeWidth":1.3},
  "encoding":{"x":{"datum":45.6,"axis":null},"x2":{"datum":26.5},"y":{"datum":36.5,"axis":null},"y2":{"datum":36.5}}},
 {"data":{"values":[{}]},"mark":{"type":"rule","color":"#888888","strokeWidth":1.3},
  "encoding":{"x":{"datum":26.5,"axis":null},"x2":{"datum":23.9},"y":{"datum":36.5,"axis":null},"y2":{"datum":35.4}}},
 {"data":{"values":[{}]},"mark":{"type":"point","shape":"triangle-right","angle":20,"size":55,"filled":true,"color":"#222222","opacity":1},
  "encoding":{"x":{"datum":23.8,"axis":null},"y":{"datum":35.4,"axis":null}}}
]},
{"layer":[
 {"data":{"name":"grid"},"mark":{"type":"rule","color":"#2a2a2a","strokeWidth":1.5},
  "encoding":{"x":{"field":"g","type":"quantitative","axis":null},"y":{"datum":86.2,"axis":null},"y2":{"datum":-1.1}}},
 {"data":{"values":[{}]},"mark":{"type":"rect","fill":"#ffffff"},"encoding":{"x":{"datum":26.0,"axis":null},"x2":{"datum":43.8},"y":{"datum":69.9,"axis":null},"y2":{"datum":60.8}}},
 {"data":{"name":"pop"},"transform":[{"filter":"datum.r == 2006"},{"joinaggregate":[{"op":"min","field":"v","as":"lo"}],"groupby":["a"]},{"filter":"datum.s == 'K'"}],
  "mark":{"type":"bar","orient":"horizontal","size":4.0},
  "encoding":{
   "x":{"field":"lo","type":"quantitative","scale":{"domain":[0,35],"range":[1080,1284.3],"nice":false,"zero":false},"axis":null},
   "x2":{"datum":0},
   "y":{"field":"a","type":"quantitative","scale":{"domain":[0,85],"range":[512.3,90],"nice":false,"zero":false},"axis":null},
   "color":{"field":"g","type":"nominal"}
  }},
 {"data":{"name":"pop"},"transform":[{"filter":"datum.r == 2006"},{"joinaggregate":[{"op":"min","field":"v","as":"lo"}],"groupby":["a"]},{"filter":"datum.s == 'K'"},{"filter":"datum.v > datum.lo"}],
  "mark":{"type":"bar","orient":"horizontal","size":4.0,"color":"#231f20"},
  "encoding":{"x":{"field":"lo","type":"quantitative","axis":null},"x2":{"field":"v"},"y":{"field":"a","type":"quantitative","axis":null}}},
 {"data":{"values":[{}]},"mark":{"type":"rule","color":"#2a2a2a","strokeWidth":1.6},
  "encoding":{"x":{"datum":0,"axis":null},"y":{"datum":86.2,"axis":null},"y2":{"datum":-1.4}}},
 {"data":{"name":"ages"},"mark":{"type":"rule","color":"#2a2a2a","strokeWidth":1.4},
  "encoding":{"x":{"datum":0,"axis":null},"x2":{"datum":-1.71},"y":{"field":"a","type":"quantitative","axis":null}}},
 {"data":{"name":"agel"},"mark":{"type":"text","fontSize":12.5,"align":"center","baseline":"middle"},
  "encoding":{"x":{"datum":-5.31,"axis":null},"y":{"field":"a","type":"quantitative","axis":null},"text":{"field":"a"}}},
 {"data":{"values":[{}]},"mark":{"type":"text","text":"85 lat","fontSize":12,"align":"center","baseline":"middle"},
  "encoding":{"x":{"datum":-5.31,"axis":null},"y":{"datum":86.5,"axis":null}}},
 {"data":{"values":[{}]},"mark":{"type":"text","text":"i więcej","fontSize":12,"align":"center","baseline":"middle"},
  "encoding":{"x":{"datum":-5.31,"axis":null},"y":{"datum":83.5,"axis":null}}},
 {"data":{"name":"xl"},"mark":{"type":"text","fontSize":12.5,"align":"center","baseline":"middle"},
  "encoding":{"x":{"field":"t","type":"quantitative","axis":null},"y":{"datum":-4.35,"axis":null},"text":{"field":"t"}}},
 {"data":{"values":[{}]},"mark":{"type":"text","text":"35 tys.","fontSize":12.5,"align":"left","baseline":"middle","dx":-3},
  "encoding":{"x":{"datum":35,"axis":null},"y":{"datum":-4.35,"axis":null}}},
 {"data":{"values":[{}]},"mark":{"type":"rect","fill":"#e4e4e4","stroke":"#555555","strokeWidth":1},
  "encoding":{"x":{"datum":15.2,"axis":null},"x2":{"datum":24.7},"y":{"datum":83.2,"axis":null},"y2":{"datum":78.4}}},
 {"data":{"values":[{}]},"mark":{"type":"text","text":"Kobiety","fontSize":10.5,"align":"center","baseline":"middle"},
  "encoding":{"x":{"datum":19.95,"axis":null},"y":{"datum":80.8,"axis":null}}},
 {"data":{"values":[{}]},"mark":{"type":"text","text":"Nadwyżka liczby kobiet","fontSize":10,"align":"left","baseline":"middle"},
  "encoding":{"x":{"datum":26.2,"axis":null},"y":{"datum":67.5,"axis":null}}},
 {"data":{"values":[{}]},"mark":{"type":"text","text":"nad liczbą mężczyzn","fontSize":10,"align":"left","baseline":"middle"},
  "encoding":{"x":{"datum":26.2,"axis":null},"y":{"datum":63.9,"axis":null}}},
 {"data":{"values":[{}]},"mark":{"type":"rule","color":"#888888","strokeWidth":1.3},
  "encoding":{"x":{"datum":43.3,"axis":null},"x2":{"datum":26.4},"y":{"datum":62.26,"axis":null},"y2":{"datum":62.26}}},
 {"data":{"values":[{}]},"mark":{"type":"rule","color":"#888888","strokeWidth":1.3},
  "encoding":{"x":{"datum":26.4,"axis":null},"x2":{"datum":24.9},"y":{"datum":62.26,"axis":null},"y2":{"datum":61.0}}},
 {"data":{"values":[{}]},"mark":{"type":"point","shape":"triangle-right","angle":143,"size":55,"filled":true,"color":"#222222","opacity":1},
  "encoding":{"x":{"datum":24.8,"axis":null},"y":{"datum":60.85,"axis":null}}}
]}
]
}
